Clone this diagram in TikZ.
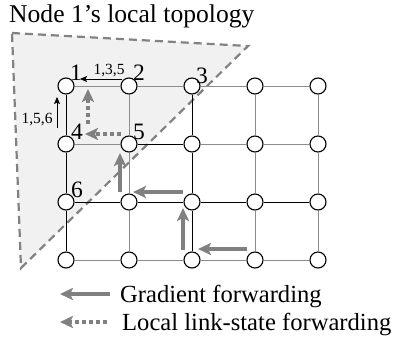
\documentclass[tikz,border=0pt]{standalone}
\usepackage{fontspec}
\setmainfont{Liberation Serif}
\usepackage{xcolor}
\definecolor{ColLink}{RGB}{140,140,140}
\definecolor{ColFlow}{RGB}{128,128,128}
\definecolor{ColZone}{RGB}{241,241,241}
\definecolor{ColDash}{RGB}{130,130,130}
\usepackage{tikz}
\usetikzlibrary{arrows.meta}
\tikzstyle{Vertex}=[circle,draw=black,fill=white,inner sep=0pt,
minimum size=16pt,line width=1.1pt]
\tikzstyle{Link}=[draw=black,line width=0.8pt]
\tikzstyle{LinkG}=[draw=ColLink,line width=1pt]
\tikzstyle{Flow}=[draw=ColFlow,line width=4pt,
-{Stealth[length=13pt,width=12pt,inset=3pt]}]
\tikzstyle{FlowD}=[Flow,dash pattern=on 4pt off 3pt]
\tikzstyle{Hint}=[draw=black,line width=0.7pt,
-{Stealth[length=7pt,width=6pt,inset=1.5pt]}]
\tikzstyle{Tag}=[inner sep=0pt,font=\fontsize{23.5}{26}\selectfont]
\tikzstyle{TagS}=[inner sep=0pt,font=\fontsize{15.5}{17}\selectfont]
\tikzstyle{Caption}=[inner sep=0pt,anchor=base west,
font=\fontsize{24.6}{28}\selectfont]

\begin{document}
\begin{tikzpicture}[x=1pt,y=-1pt]
            \useasboundingbox(0,0)rectangle(403,343);
            % shaded zone seen by node 1
            \draw[ColDash,fill=ColZone,line width=2.2pt,
                dash pattern=on 8pt off 5pt](12,33)--(248,46)--(21,268)--cycle;
            \node[Caption,font=\fontsize{25.6}{28}\selectfont](title)at(9,22)
                {Node 1’s local topology};
            % grid nodes, named row then column
            \node[Vertex](11)at(66,86){};
            \node[Vertex](12)at(129,86){};
            \node[Vertex](13)at(192,86){};
            \node[Vertex](14)at(255,86){};
            \node[Vertex](15)at(318,86){};
            \node[Vertex](21)at(66,144){};
            \node[Vertex](22)at(129,144){};
            \node[Vertex](23)at(192,144){};
            \node[Vertex](24)at(255,144){};
            \node[Vertex](25)at(318,144){};
            \node[Vertex](31)at(66,202){};
            \node[Vertex](32)at(129,202){};
            \node[Vertex](33)at(192,202){};
            \node[Vertex](34)at(255,202){};
            \node[Vertex](35)at(318,202){};
            \node[Vertex](41)at(66,260){};
            \node[Vertex](42)at(129,260){};
            \node[Vertex](43)at(192,260){};
            \node[Vertex](44)at(255,260){};
            \node[Vertex](45)at(318,260){};
            % horizontal links
            \draw[LinkG](11)--(12);
            \draw[LinkG](12)--(13);
            \draw[LinkG](13)--(14);
            \draw[LinkG](14)--(15);
            \draw[LinkG](21)--(22);
            \draw[Link](22)--(23);
            \draw[LinkG](23)--(24);
            \draw[LinkG](24)--(25);
            \draw[Link](31)--(32);
            \draw[Link](32)--(33);
            \draw[Link](33)--(34);
            \draw[Link](34)--(35);
            \draw[LinkG](41)--(42);
            \draw[LinkG](42)--(43);
            \draw[LinkG](43)--(44);
            \draw[LinkG](44)--(45);
            % vertical links
            \draw[Link](11)--(21);
            \draw[Link](21)--(31);
            \draw[Link](31)--(41);
            \draw[LinkG](12)--(22);
            \draw[LinkG](22)--(32);
            \draw[LinkG](32)--(42);
            \draw[Link](13)--(23);
            \draw[Link](23)--(33);
            \draw[Link](33)--(43);
            \draw[LinkG](14)--(24);
            \draw[LinkG](24)--(34);
            \draw[LinkG](34)--(44);
            \draw[LinkG](15)--(25);
            \draw[LinkG](25)--(35);
            \draw[LinkG](35)--(45);
            % node numbers
            \node[Tag](t1)at(76,73){1};
            \node[Tag](t2)at(139,73){2};
            \node[Tag](t3)at(202,76){3};
            \node[Tag](t4)at(77,132){4};
            \node[Tag](t5)at(139,132){5};
            \node[Tag](t6)at(77,190){6};
            % route hints towards node 1
            \coordinate(h1s)at(122,79);
            \coordinate(h1e)at(80,79);
            \draw[Hint](h1s)--(h1e);
            \node[TagS](p1)at(109,71){1,3,5};
            \coordinate(h2s)at(57,128);
            \coordinate(h2e)at(57,97);
            \draw[Hint](h2s)--(h2e);
            \node[TagS](p2)at(37,120){1,5,6};
            % local link-state forwarding
            \coordinate(d1s)at(121,134);
            \coordinate(d1e)at(85,134);
            \coordinate(d2s)at(88,124);
            \coordinate(d2e)at(88,89);
            \draw[FlowD](d1s)--(d1e);
            \draw[FlowD](d2s)--(d2e);
            % gradient forwarding
            \coordinate(g1s)at(247,249);
            \coordinate(g1e)at(198,249);
            \coordinate(g2s)at(183,250);
            \coordinate(g2e)at(183,208);
            \coordinate(g3s)at(183,192);
            \coordinate(g3e)at(133,192);
            \coordinate(g4s)at(120,192);
            \coordinate(g4e)at(120,153);
            \draw[Flow](g1s)--(g1e);
            \draw[Flow](g2s)--(g2e);
            \draw[Flow](g3s)--(g3e);
            \draw[Flow](g4s)--(g4e);
            % legend
            \coordinate(k1s)at(110,294);
            \coordinate(k1e)at(60,294);
            \coordinate(k2s)at(107,322);
            \coordinate(k2e)at(60,322);
            \draw[Flow](k1s)--(k1e);
            \draw[FlowD](k2s)--(k2e);
            \node[Caption](c1)at(120,302){Gradient forwarding};
            \node[Caption](c2)at(122,330){Local link-state forwarding};
        \end{tikzpicture}
\end{document}
